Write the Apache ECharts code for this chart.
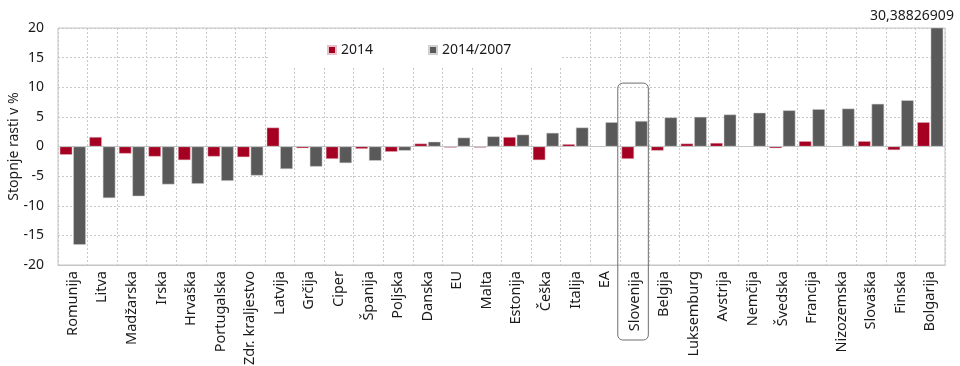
<!DOCTYPE html>
<html><head><meta charset="utf-8">
<script src="https://cdn.jsdelivr.net/npm/echarts@6/dist/echarts.min.js"></script>
<style>html,body{margin:0;padding:0;background:#fff}#c{width:960px;height:366px}</style>
</head><body><div id="c"></div>
<script>
var categories = ["Romunija","Litva","Madžarska","Irska","Hrvaška","Portugalska","Zdr. kraljestvo","Latvija","Grčija","Ciper","Španija","Poljska","Danska","EU","Malta","Estonija","Češka","Italija","EA","Slovenija","Belgija","Luksemburg","Avstrija","Nemčija","Švedska","Francija","Nizozemska","Slovaška","Finska","Bolgarija"];
var s2014 = [-1.4,1.6,-1.2,-1.7,-2.3,-1.7,-1.8,3.2,-0.3,-2.1,-0.4,-0.9,0.5,-0.2,-0.2,1.6,-2.3,0.4,0,-2.1,-0.7,0.5,0.6,0,-0.3,0.9,0,0.9,-0.6,4.1];
var s20142007 = [-16.6,-8.7,-8.4,-6.4,-6.3,-5.8,-4.9,-3.8,-3.4,-2.8,-2.4,-0.7,0.8,1.5,1.7,2.0,2.3,3.2,4.1,4.3,4.9,5.0,5.4,5.7,6.1,6.3,6.4,7.2,7.8,30.38826909];
var yTicks = {min:-20, max:20, interval:5};
var seriesNames = ["2014","2014/2007"];

var font = "'Noto Sans', sans-serif";
var chart = echarts.init(document.getElementById('c'));
var greyData = s20142007.map(function(v, i){
  if (v > yTicks.max) {
    return {value: v, label: {show:true, position:'top', offset:[-25,0], color:'#1a1a1a', fontSize:14, fontFamily:font,
      formatter: function(p){ return String(p.value).replace('.', ','); }}};
  }
  return v;
});
chart.setOption({
  animation:false,
  grid:{left:58,right:15,top:28,bottom:101,show:true,borderColor:'#c4c4c4',borderWidth:1,outerBoundsMode:'none',containLabel:false},
  legend:{data:seriesNames,left:270,top:29,padding:[14,50,10,57],backgroundColor:'#fff',itemGap:55,
    icon:'rect',itemWidth:8,itemHeight:8,textStyle:{fontSize:14,color:'#1a1a1a',fontFamily:font},z:10},
  xAxis:{type:'category',data:categories,
    axisTick:{show:false},axisLine:{show:true,onZero:false,lineStyle:{color:'#c4c4c4'}},
    axisLabel:{rotate:90,interval:0,margin:6,fontSize:14.5,color:'#1a1a1a',fontFamily:font},
    splitLine:{show:true,interval:0,lineStyle:{color:'#c8c8c8',type:[2,2],width:1}}},
  yAxis:{type:'value',min:yTicks.min,max:yTicks.max,interval:yTicks.interval,
    name:'Stopnje rasti v %',nameLocation:'middle',nameGap:37,nameRotate:90,nameMoveOverlap:false,
    nameTextStyle:{fontSize:14,color:'#1a1a1a',fontFamily:font},
    axisLine:{show:false},axisTick:{show:false},
    axisLabel:{fontSize:14,color:'#1a1a1a',fontFamily:font,margin:14},
    splitLine:{lineStyle:{color:'#c8c8c8',type:[2,2],width:1}}},
  series:[
    {name:seriesNames[0],type:'bar',data:s2014,barGap:'8%',barCategoryGap:'12%',
      itemStyle:{color:'#A50021',borderColor:'#e8c0c8',borderWidth:0.5},
      markLine:{silent:true,symbol:'none',label:{show:false},data:[{yAxis:0}],
        lineStyle:{color:'#c4c4c4',type:'solid',width:1}}},
    {name:seriesNames[1],type:'bar',data:greyData,
      itemStyle:{color:'#595959',borderColor:'#d0d0d0',borderWidth:0.5}}
  ]
});
var idx = categories.indexOf('Slovenija');
var cx = chart.convertToPixel({xAxisIndex:0}, categories[idx]);
var cx2 = chart.convertToPixel({xAxisIndex:0}, categories[idx+1]);
var w = (cx2 - cx) + 1;
var topY = chart.convertToPixel({yAxisIndex:0}, 10.7);
var bottomY = 340;
chart.setOption({graphic:[{type:'rect',shape:{x:cx - w/2 - 1.5,y:topY,width:w,height:bottomY-topY,r:5},
  style:{fill:'none',stroke:'#6e6e6e',lineWidth:1},z:20,silent:true}]});
</script></body></html>
